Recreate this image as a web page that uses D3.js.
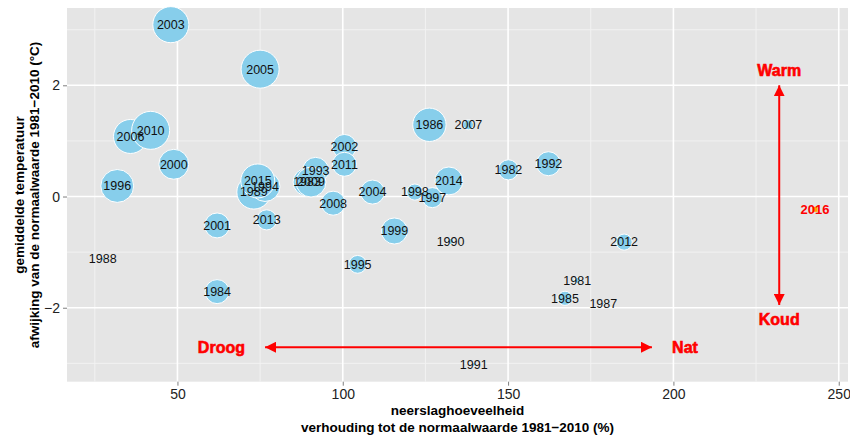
<!DOCTYPE html>
<html>
<head>
<meta charset="utf-8">
<script src="https://cdn.jsdelivr.net/npm/d3@7"></script>
<style>
  body { margin: 0; background: #fff; }
  text { font-family: "Liberation Sans", Arial, Helvetica, sans-serif; }
</style>
</head>
<body>
<div id="myGraph"></div>
<script>
// jaar, neerslag (% van normaal), temperatuurafwijking (°C), bolwaarde
var jaren = [1981, 1982, 1983, 1984, 1985, 1986, 1987, 1988, 1989, 1990,
             1991, 1992, 1993, 1994, 1995, 1996, 1997, 1998, 1999, 2000,
             2001, 2002, 2003, 2004, 2005, 2006, 2007, 2008, 2009, 2010,
             2011, 2012, 2013, 2014, 2015];
var neerslag = [170.9, 150.1, 89.2, 62.0, 167.2, 126.2, 178.8, 27.4, 73.1, 132.6,
                139.6, 162.2, 91.8, 76.5, 104.5, 31.8, 127.1, 121.8, 115.6, 48.9,
                62.0, 100.5, 48.0, 109.0, 75.0, 35.8, 138.0, 97.1, 90.4, 41.9,
                100.5, 185.1, 77.0, 132.1, 74.3];
var temperatuur = [-1.51, 0.48, 0.26, -1.71, -1.83, 1.29, -1.92, -1.12, 0.08, -0.81,
                   -3.02, 0.59, 0.47, 0.18, -1.22, 0.19, -0.02, 0.08, -0.62, 0.58,
                   -0.52, 0.90, 3.09, 0.08, 2.29, 1.08, 1.29, -0.12, 0.26, 1.19,
                   0.58, -0.82, -0.42, 0.28, 0.28];
var grootte = [2.5, 28, 54, 40, 14, 77, 0.3, 1, 80, 2.5,
               1, 40, 47, 62, 22, 75, 28, 18, 47, 62,
               43, 40, 90, 40, 100, 80, 7, 40, 62, 100,
               40, 18, 28, 54, 80];

// huidig jaar apart
var nieuwJaar = [2016];
var nieuwNeerslag = [242.8];
var nieuwTemp = [-0.23];

var xTicks = [50, 100, 150, 200, 250];
var yTicks = [-2, 0, 2];
var xMinor = [25, 75, 125, 175, 225];
var yMinor = [-3, -1, 1, 3];

// annotaties
var pijlNeerslag = [76.5, 193.5];   // droog <-> nat
var pijlNeerslagY = -2.71;
var labelsNeerslag = [{t: "Droog", x: 63.3}, {t: "Nat", x: 203.5}];
var pijlTemp = [-1.95, 2.0];       // koud <-> warm
var pijlTempX = 232;
var labelsTemp = [{t: "Koud", y: -2.21}, {t: "Warm", y: 2.27}];

(function(){
var width = 850, height = 439;
var pL = 67, pR = 848, pT = 8, pB = 381.7;

var x = d3.scaleLinear().domain([16.6, 252.8]).range([pL, pR]);
var y = d3.scaleLinear().domain([-3.33, 3.39]).range([pB, pT]);
var r = d3.scaleSqrt().domain([0, 100]).range([0, 19]);

var data = jaren.map(function(j, i){
  return {jaar: j, x: neerslag[i], y: temperatuur[i], s: grootte[i]};
});

var svg = d3.select("#myGraph").append("svg")
    .attr("width", width)
    .attr("height", height);

svg.append("rect")
    .attr("x", pL).attr("y", pT)
    .attr("width", pR - pL).attr("height", pB - pT)
    .attr("fill", "#e5e5e5");

// rasterlijnen
svg.selectAll(".xminor").data(xMinor).enter().append("line")
    .attr("x1", function(d){ return x(d); }).attr("x2", function(d){ return x(d); })
    .attr("y1", pT).attr("y2", pB)
    .attr("stroke", "#f2f2f2").attr("stroke-width", 1);
svg.selectAll(".yminor").data(yMinor).enter().append("line")
    .attr("y1", function(d){ return y(d); }).attr("y2", function(d){ return y(d); })
    .attr("x1", pL).attr("x2", pR)
    .attr("stroke", "#f2f2f2").attr("stroke-width", 1);
svg.selectAll(".xmajor").data(xTicks).enter().append("line")
    .attr("x1", function(d){ return x(d); }).attr("x2", function(d){ return x(d); })
    .attr("y1", pT).attr("y2", pB)
    .attr("stroke", "#fff").attr("stroke-width", 1.6);
svg.selectAll(".ymajor").data(yTicks).enter().append("line")
    .attr("y1", function(d){ return y(d); }).attr("y2", function(d){ return y(d); })
    .attr("x1", pL).attr("x2", pR)
    .attr("stroke", "#fff").attr("stroke-width", 1.6);

// assen
var xAxis = svg.append("g")
    .attr("transform", "translate(0," + pB + ")")
    .call(d3.axisBottom(x).tickValues(xTicks).tickSize(4).tickPadding(3));
var yAxis = svg.append("g")
    .attr("transform", "translate(" + pL + ",0)")
    .call(d3.axisLeft(y).tickValues(yTicks).tickSize(4).tickPadding(3)
      .tickFormat(function(d){ return d < 0 ? "\u2212" + Math.abs(d) : d; }));
[xAxis, yAxis].forEach(function(a){
  a.select(".domain").remove();
  a.selectAll(".tick line").attr("stroke", "#7f7f7f");
  a.selectAll(".tick text").attr("fill", "#222").style("font-size", "14px")
    .style("font-family", "'Liberation Sans', Arial, sans-serif");
});

// bellen
svg.selectAll(".bel").data(data).enter().append("circle")
    .attr("cx", function(d){ return x(d.x); })
    .attr("cy", function(d){ return y(d.y); })
    .attr("r", function(d){ return r(d.s); })
    .attr("fill", "#87ceeb")
    .attr("stroke", "#fff").attr("stroke-width", 1);

// pijlen
var defs = svg.append("defs");
defs.append("marker").attr("id", "kop")
    .attr("viewBox", "0 0 10 10").attr("refX", 10).attr("refY", 5)
    .attr("markerWidth", 11).attr("markerHeight", 11)
    .attr("markerUnits", "userSpaceOnUse")
    .attr("orient", "auto-start-reverse")
  .append("path").attr("d", "M0,0 L10,5 L0,10 Z").attr("fill", "red");

svg.append("line")
    .attr("x1", x(pijlNeerslag[0])).attr("x2", x(pijlNeerslag[1]))
    .attr("y1", y(pijlNeerslagY)).attr("y2", y(pijlNeerslagY))
    .attr("stroke", "red").attr("stroke-width", 2)
    .attr("marker-start", "url(#kop)").attr("marker-end", "url(#kop)");
svg.append("line")
    .attr("x1", x(pijlTempX)).attr("x2", x(pijlTempX))
    .attr("y1", y(pijlTemp[0])).attr("y2", y(pijlTemp[1]))
    .attr("stroke", "red").attr("stroke-width", 2)
    .attr("marker-start", "url(#kop)").attr("marker-end", "url(#kop)");

svg.selectAll(".lblN").data(labelsNeerslag).enter().append("text")
    .attr("x", function(d){ return x(d.x); })
    .attr("y", y(pijlNeerslagY))
    .attr("dy", ".35em").attr("text-anchor", "middle")
    .attr("fill", "red").attr("stroke", "red").attr("stroke-width", 0.6)
    .style("font-size", "16px").style("font-weight", "bold")
    .text(function(d){ return d.t; });
svg.selectAll(".lblT").data(labelsTemp).enter().append("text")
    .attr("x", x(pijlTempX))
    .attr("y", function(d){ return y(d.y); })
    .attr("dy", ".35em").attr("text-anchor", "middle")
    .attr("fill", "red").attr("stroke", "red").attr("stroke-width", 0.6)
    .style("font-size", "16px").style("font-weight", "bold")
    .text(function(d){ return d.t; });

// jaartallen
svg.selectAll(".jaar").data(data).enter().append("text")
    .attr("x", function(d){ return x(d.x); })
    .attr("y", function(d){ return y(d.y); })
    .attr("dy", ".35em").attr("text-anchor", "middle")
    .attr("fill", "#111")
    .style("font-size", "12.5px")
    .text(function(d){ return d.jaar; });

// 2016
svg.selectAll(".nieuw").data(nieuwJaar).enter().append("rect")
    .attr("x", function(d, i){ return x(nieuwNeerslag[i]) - 2.5; })
    .attr("y", function(d, i){ return y(nieuwTemp[i]) - 2.5; })
    .attr("width", 5).attr("height", 5)
    .attr("fill", "orange");
svg.selectAll(".nieuwLbl").data(nieuwJaar).enter().append("text")
    .attr("x", function(d, i){ return x(nieuwNeerslag[i]); })
    .attr("y", function(d, i){ return y(nieuwTemp[i]); })
    .attr("dy", ".35em").attr("text-anchor", "middle")
    .attr("fill", "red")
    .style("font-size", "13px").style("font-weight", "bold")
    .text(function(d){ return d; });

// astitels
var xt = svg.append("text")
    .attr("text-anchor", "middle")
    .style("font-size", "13.5px").style("font-weight", "bold");
xt.append("tspan").attr("x", (pL + pR) / 2).attr("y", 415).text("neerslaghoeveelheid");
xt.append("tspan").attr("x", (pL + pR) / 2).attr("y", 432)
    .text("verhouding tot de normaalwaarde 1981\u22122010 (%)");

var yt = svg.append("text")
    .attr("text-anchor", "middle")
    .attr("transform", "translate(0,195) rotate(-90)")
    .style("font-size", "13.5px").style("font-weight", "bold");
yt.append("tspan").attr("x", 0).attr("y", 24).text("gemiddelde temperatuur");
yt.append("tspan").attr("x", 0).attr("y", 39)
    .text("afwijking van de normaalwaarde 1981\u22122010 (\u00b0C)");
})();
</script>
</body>
</html>
